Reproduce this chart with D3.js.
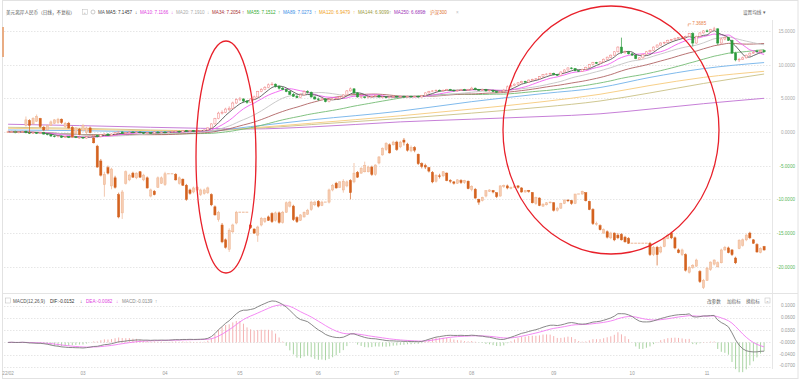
<!DOCTYPE html>
<html><head><meta charset="utf-8">
<script src="https://cdn.jsdelivr.net/npm/d3@7"></script>
<style>
html,body{margin:0;padding:0;background:#fff;}
svg{display:block;font-family:"Liberation Sans","Noto Sans CJK SC",Arial,sans-serif;}
</style></head><body>
<svg id="c" width="800" height="379"></svg>
<script>
// ================= DATA =================
const xTickIdx = [0,21,44,65,87,109,130,153,175,196];
const xTickLabels = ["22/02","03","04","05","06","07","08","09","10","11"];
const yTickValues = [15,10,5,0,-5,-10,-15,-20];
const macdGridValues = [0.09,0.06,0.03,0,-0.03,-0.06];
const macdTickLabels = ["0.1000","0.0600","0.0300","-0.0000","-0.0400","-0.0700"];
const titleText = "美元离岸人民币（日线，不复权）";
const maNames = ["MA5","MA10","MA20","MA34","MA55","MA89","MA120","MA144","MA250"];
const maValues = ["7.1457","7.1166","7.1910","7.2054","7.1512","7.0273","6.9479","6.9099","6.6898"];
const maArrows = ["↓","↓","↓","↑","↑","↑","↑","↑","↑"];
const overlayName = "沪深300";
const macdTitle = "MACD(12,26,9)";
const macdValues = ["DIF:-0.0152","DEA:-0.0082","MACD:-0.0139"];
const macdArrows = ["↓","↓","↑"];
const macdButtons = ["改参数","加指标","换指标"];
const settingText = "设置均线 ▾";
const cnhBase = 6.373;
const cnhMaxLabel = "7.3685";

// USD/CNH, % change vs base: [open, high, low, close]
const cnh = [
[0.0,0.2,-0.1,0.0],[0.0,0.2,-0.1,0.1],[0.1,0.2,-0.2,-0.1],[-0.1,0.1,-0.2,0.0],[0.0,0.2,-0.1,0.1],
[0.1,0.2,-0.2,-0.1],[-0.1,0.0,-0.3,-0.2],[-0.2,0.0,-0.3,-0.1],[-0.1,0.0,-0.3,-0.2],[-0.2,0.0,-0.3,-0.1],
[-0.1,0.0,-0.4,-0.3],[-0.3,-0.2,-0.5,-0.4],[-0.4,-0.3,-0.7,-0.6],[-0.6,-0.5,-0.8,-0.7],[-0.7,-0.5,-0.8,-0.6],
[-0.6,-0.5,-0.9,-0.8],[-0.8,-0.6,-0.9,-0.7],[-0.7,-0.6,-0.9,-0.8],[-0.8,-0.6,-0.9,-0.7],[-0.7,-0.6,-0.9,-0.8],
[-0.8,-0.7,-1.0,-0.8],[-0.8,-0.7,-1.0,-0.9],[-0.9,-0.6,-1.0,-0.7],[-0.7,-0.5,-0.8,-0.6],[-0.6,-0.4,-0.7,-0.5],
[-0.5,-0.4,-0.8,-0.7],[-0.7,-0.3,-0.8,-0.4],[-0.4,-0.2,-0.5,-0.3],[-0.3,-0.2,-0.6,-0.5],[-0.5,-0.2,-0.6,-0.3],
[-0.3,0.0,-0.4,-0.1],[-0.1,0.1,-0.2,0.0],[0.0,0.1,-0.3,-0.2],[-0.2,0.0,-0.3,-0.1],[-0.1,0.1,-0.2,0.0],
[0.0,0.1,-0.2,-0.1],[-0.1,0.1,-0.2,0.0],[0.0,0.1,-0.2,-0.1],[-0.1,0.0,-0.3,-0.2],[-0.2,0.0,-0.3,-0.1],
[-0.1,0.0,-0.3,-0.2],[-0.2,0.1,-0.2,0.0],[0.0,0.1,-0.2,-0.1],[-0.1,0.1,-0.2,0.0],[0.0,0.1,-0.2,-0.1],
[-0.1,0.1,-0.2,0.0],[0.0,0.2,-0.1,0.1],[0.1,0.2,0.0,0.15],[0.1,0.2,-0.1,0.0],[0.0,0.3,-0.1,0.2],
[0.2,0.3,0.0,0.1],[0.1,0.3,0.0,0.2],[0.2,0.3,0.0,0.1],[0.1,0.3,0.0,0.2],[0.15,0.3,0.1,0.25],
[0.2,0.4,0.1,0.3],[0.3,0.7,0.2,0.6],[0.6,1.3,0.5,1.2],[1.2,2.1,1.1,2.0],[2.0,3.0,1.9,2.8],
[2.8,3.2,2.6,2.9],[2.9,3.6,2.8,3.4],[3.3,3.8,3.1,3.5],[3.5,4.5,3.4,4.3],[4.3,5.0,4.2,4.8],
[4.8,5.2,4.6,4.9],[4.9,5.0,4.4,4.6],[4.6,4.7,4.2,4.4],[4.4,5.0,4.3,4.9],[4.9,5.4,4.8,5.2],
[5.2,6.1,5.1,6.0],[6.0,6.5,5.9,6.3],[6.3,6.8,6.2,6.6],[6.6,7.2,6.5,7.0],[7.0,7.4,6.9,7.1],
[7.1,7.2,6.6,6.8],[6.8,6.9,6.3,6.5],[6.5,6.7,6.2,6.3],[6.3,6.4,5.9,6.0],[6.0,6.1,5.5,5.6],
[5.6,5.8,5.2,5.3],[5.3,5.5,5.0,5.1],[5.1,5.7,5.0,5.5],[5.5,6.2,5.4,6.0],[6.0,6.2,5.7,5.9],
[5.9,6.0,5.1,5.2],[5.2,5.3,4.8,4.9],[4.9,5.1,4.6,4.8],[4.8,5.1,4.7,4.9],[4.9,5.0,4.4,4.5],
[4.5,4.9,4.4,4.8],[4.8,5.0,4.7,4.9],[4.9,5.1,4.8,5.0],[5.0,5.3,4.9,5.2],[5.2,5.6,5.1,5.5],
[5.5,6.2,5.4,6.1],[6.1,6.6,6.0,6.4],[6.4,6.5,5.7,5.8],[5.8,5.9,5.1,5.2],[5.1,5.4,5.0,5.2],
[5.2,5.3,5.0,5.1],[5.1,5.3,5.0,5.2],[5.2,5.4,5.1,5.3],[5.3,5.5,5.2,5.4],[5.4,5.5,5.1,5.2],
[5.1,5.3,5.0,5.2],[5.2,5.3,5.0,5.1],[5.1,5.3,5.0,5.2],[5.2,5.4,5.1,5.3],[5.3,5.4,5.1,5.2],
[5.2,5.4,5.1,5.3],[5.3,5.4,5.1,5.2],[5.2,5.4,5.1,5.3],[5.3,5.4,5.1,5.2],[5.2,5.4,5.1,5.3],
[5.3,5.4,5.1,5.2],[5.2,5.5,5.1,5.4],[5.4,5.9,5.3,5.8],[5.8,6.1,5.7,6.0],[6.0,6.2,5.9,6.1],
[6.1,6.3,6.0,6.2],[6.2,6.3,6.0,6.1],[6.1,6.3,6.0,6.2],[6.2,6.4,6.1,6.3],[6.3,6.4,6.1,6.2],
[6.2,6.3,6.0,6.1],[6.1,6.3,6.0,6.2],[6.2,6.4,6.1,6.3],[6.3,6.4,6.1,6.2],[6.2,6.4,6.1,6.3],
[6.3,6.7,6.2,6.5],[6.5,6.6,6.2,6.3],[6.3,6.4,6.1,6.2],[6.2,6.4,6.1,6.3],[6.3,6.4,6.0,6.1],
[6.1,6.3,6.0,6.2],[6.2,6.3,5.9,6.0],[6.0,6.1,5.8,5.9],[5.9,6.1,5.8,6.0],[6.0,6.4,5.9,6.2],
[6.2,6.9,6.1,6.7],[6.7,7.0,6.6,6.9],[6.9,7.2,6.8,7.1],[7.1,7.4,7.0,7.3],[7.3,7.6,7.2,7.5],
[7.5,7.6,7.3,7.4],[7.4,7.8,7.3,7.7],[7.7,7.9,7.6,7.8],[7.8,8.0,7.7,7.9],[7.9,8.3,7.8,8.2],
[8.2,8.6,8.1,8.5],[8.5,8.7,8.4,8.6],[8.6,8.8,8.5,8.7],[8.7,8.8,8.4,8.5],[8.5,8.6,8.3,8.4],
[8.4,9.0,8.3,8.9],[8.9,9.3,8.8,9.2],[9.2,9.6,9.1,9.5],[9.5,9.6,9.3,9.4],[9.4,9.5,9.0,9.1],
[9.1,9.2,8.9,9.0],[9.0,9.4,8.9,9.3],[9.3,9.7,9.2,9.6],[9.6,10.1,9.5,10.0],[10.0,10.4,9.9,10.3],
[10.3,10.4,10.1,10.2],[10.2,10.5,10.1,10.4],[10.4,10.9,10.3,10.8],[10.8,11.2,10.7,11.1],[11.1,11.5,11.0,11.4],
[11.4,12.0,11.3,11.9],[11.9,12.7,11.8,12.6],[12.6,14.0,11.6,11.8],[11.8,12.1,11.6,11.9],[11.9,12.0,11.5,11.6],
[11.6,11.7,11.3,11.4],[11.4,11.5,10.8,10.9],[10.8,11.1,10.7,11.0],[11.0,11.6,10.9,11.5],[11.5,12.0,11.4,11.9],
[11.9,12.2,11.8,12.1],[12.1,12.7,12.0,12.6],[12.6,13.0,12.5,12.9],[12.9,13.3,12.8,13.2],[13.2,13.4,13.0,13.3],
[13.3,13.7,13.2,13.6],[13.6,13.8,13.4,13.7],[13.7,14.0,13.6,13.9],[13.9,14.1,13.8,14.0],[14.0,14.2,13.9,14.1],
[14.1,14.3,13.9,14.2],[14.2,14.7,14.1,14.6],[14.6,14.8,12.7,13.2],[13.2,14.3,13.1,14.2],[14.2,14.8,14.1,14.7],
[14.7,15.1,14.6,15.0],[15.0,15.2,14.8,14.9],[14.9,15.3,14.8,15.2],[15.2,15.6,15.0,15.3],[15.3,15.4,12.9,13.2],
[13.2,14.0,13.1,13.8],[13.8,14.2,13.6,14.0],[14.0,14.1,13.5,13.6],[13.6,13.7,11.6,11.7],[11.7,11.9,10.5,10.7],
[10.7,11.0,10.4,10.8],[10.8,11.2,10.7,11.0],[11.0,11.5,10.9,11.4],[11.4,11.8,11.3,11.7],[11.7,12.0,11.6,11.8],
[12.0,12.2,11.8,11.9],[11.9,12.2,11.8,12.1],[12.1,12.2,11.8,11.9]
];

// 沪深300 overlay, % change vs base: [open, high, low, close]; null = no trading that day
const hs300 = [
null,null,null,null,null,
[1.0,2.3,0.8,1.8],[1.7,1.9,-0.2,1.0],[1.2,2.2,1.1,2.0],[1.6,2.6,1.5,2.3],[2.0,2.1,0.6,0.8],
[0.7,0.9,0.1,0.3],[0.3,1.1,0.2,1.0],[1.0,1.7,0.9,1.5],[1.3,1.9,1.2,1.8],[1.4,2.1,1.2,1.9],
[1.9,2.0,1.2,1.4],[0.8,1.5,0.6,1.3],[1.3,1.5,0.5,0.6],[0.7,0.9,-0.8,-0.7],[-0.2,0.7,-0.4,0.6],
[0.4,0.6,-0.5,-0.4],[0.2,1.2,0.1,1.0],[-0.1,0.8,-0.3,0.6],[0.6,0.8,-0.2,-0.1],[-0.9,-0.7,-1.7,-1.6],
[-2.1,-1.9,-5.3,-5.2],[-4.3,-4.0,-6.6,-6.4],[-7.8,-5.9,-9.6,-6.3],[-5.3,-5.0,-6.3,-6.1],[-8.0,-5.3,-8.5,-5.5],
[-6.8,-6.5,-8.4,-8.2],[-9.3,-9.0,-12.8,-12.6],[-12.0,-8.6,-12.9,-8.9],[-7.6,-5.7,-7.8,-5.9],[-7.1,-6.2,-7.3,-6.4],
[-6.1,-5.9,-6.8,-6.7],[-6.8,-6.0,-7.0,-6.1],[-5.9,-5.8,-6.8,-6.7],[-7.1,-6.2,-7.3,-6.4],[-6.8,-6.6,-8.4,-8.3],
[-9.5,-8.4,-9.7,-8.6],[-8.8,-8.6,-9.4,-9.3],[-8.2,-6.6,-8.3,-6.8],[-7.6,-6.6,-7.7,-6.8],[-7.8,-5.9,-8.0,-6.2],
null,null,
[-6.3,-6.1,-7.2,-7.1],[-7.6,-6.6,-7.8,-6.8],[-7.0,-6.9,-8.0,-7.9],[-7.9,-7.7,-10.2,-10.0],[-8.6,-8.4,-9.3,-9.1],
[-8.9,-8.1,-9.1,-8.3],[-8.6,-8.0,-8.8,-8.2],[-9.3,-8.4,-9.5,-8.6],[-9.1,-8.4,-9.3,-8.6],[-9.0,-8.1,-9.2,-8.3],
[-9.3,-9.1,-11.0,-10.8],[-11.1,-10.9,-12.4,-12.3],[-13.0,-11.7,-13.3,-11.9],[-13.8,-13.5,-16.5,-16.3],[-16.0,-15.8,-17.3,-17.1],
[-17.4,-14.3,-17.8,-14.6],[-14.8,-13.6,-15.0,-13.8],[-13.5,-11.7,-13.7,-11.9],
null,null,null,
[-13.8,-13.6,-14.4,-14.2],[-14.4,-14.3,-15.1,-15.0],[-15.3,-13.9,-16.3,-14.1],[-13.8,-12.6,-14.0,-12.8],[-13.3,-12.7,-13.5,-12.8],
[-12.6,-12.4,-13.2,-13.1],[-12.1,-11.9,-13.5,-13.3],[-13.1,-11.8,-13.3,-12.0],[-12.0,-11.8,-13.6,-13.4],[-13.4,-11.7,-13.6,-11.9],
[-11.9,-10.3,-12.0,-10.5],[-11.0,-10.2,-11.2,-10.4],[-11.0,-10.8,-13.2,-13.0],[-12.7,-12.5,-13.5,-13.3],[-13.1,-12.2,-13.2,-12.3],
[-12.6,-11.8,-12.7,-11.9],[-12.2,-11.4,-12.3,-11.6],[-11.5,-10.2,-11.7,-10.4],[-10.8,-10.2,-11.0,-10.4],[-10.3,-10.1,-11.2,-11.0],
[-10.9,-10.2,-11.0,-10.4],
null,
[-10.4,-8.4,-10.6,-8.6],[-8.6,-7.7,-8.8,-7.9],[-7.6,-7.4,-8.4,-8.3],[-8.2,-7.3,-8.3,-7.4],[-8.6,-7.0,-9.0,-7.3],
[-8.0,-7.2,-8.2,-7.4],[-7.2,-7.0,-10.0,-9.0],[-7.4,-4.6,-7.6,-6.1],[-6.0,-5.8,-6.8,-6.7],[-6.1,-5.2,-6.2,-5.4],
[-5.9,-4.4,-6.0,-5.0],[-5.9,-5.0,-6.0,-5.2],[-5.2,-5.0,-6.5,-6.3],[-6.3,-4.8,-6.5,-4.9],[-4.6,-3.6,-4.8,-3.7],
[-3.4,-2.3,-3.5,-2.4],[-2.6,-1.5,-2.8,-1.7],[-1.9,-1.7,-3.2,-3.1],[-1.9,-1.3,-2.0,-1.5],[-1.5,-1.3,-2.8,-2.6],
[-2.2,-1.3,-2.4,-1.5],
[-1.2,-0.9,-2.0,-1.5],[-1.8,-1.6,-2.9,-2.7],[-2.8,-2.0,-3.0,-2.3],[-2.3,-2.1,-3.0,-2.7],[-3.3,-3.2,-4.9,-4.7],
[-4.7,-4.5,-5.4,-5.1],[-5.0,-4.7,-5.5,-5.2],[-5.3,-5.2,-6.0,-5.8],[-6.0,-5.8,-7.6,-7.4],[-7.3,-6.3,-7.5,-6.4],
[-6.5,-6.2,-6.9,-6.6],[-6.5,-5.8,-6.7,-5.9],[-6.1,-6.0,-7.3,-7.2],[-7.2,-7.0,-7.6,-7.3],[-7.4,-7.3,-7.8,-7.6],
[-7.6,-7.0,-7.7,-7.1],[-7.2,-7.0,-7.7,-7.5],[-7.5,-7.1,-7.7,-7.2],[-7.3,-7.2,-8.5,-8.4],[-8.5,-7.9,-8.8,-8.1],
[-8.5,-8.3,-9.9,-9.8],[-10.0,-9.9,-10.8,-10.4],[-10.2,-9.6,-10.3,-9.7],[-9.5,-8.7,-9.7,-8.7],[-8.8,-8.5,-8.9,-8.6],
[-8.7,-8.6,-9.1,-8.9],[-9.0,-9.0,-9.8,-9.6],[-9.5,-7.9,-9.6,-8.0],[-8.1,-7.8,-8.3,-7.9],[-8.0,-7.8,-8.5,-8.3],
[-8.4,-8.1,-8.5,-8.2],[-8.2,-7.9,-8.3,-8.0],[-8.0,-7.9,-8.4,-8.2],[-8.3,-8.2,-9.0,-8.9],[-8.9,-8.6,-9.0,-8.7],
[-8.7,-8.6,-9.0,-8.8],[-9.0,-8.9,-10.6,-10.5],[-10.6,-9.6,-10.8,-9.7],[-9.8,-9.7,-11.0,-10.9],[-11.0,-10.6,-11.1,-10.7],
[-10.8,-10.4,-10.9,-10.5],[-10.5,-10.3,-10.6,-10.4],[-10.5,-10.4,-11.8,-11.6],[-11.6,-11.1,-11.8,-11.3],[-11.3,-10.5,-11.4,-10.6],
[-10.6,-10.0,-10.7,-10.1],[-10.1,-10.0,-10.4,-10.2],[-10.2,-10.1,-10.8,-10.6],[-10.6,-9.2,-10.7,-9.2],
null,
[-9.2,-8.7,-9.3,-8.8],[-9.0,-9.0,-10.3,-10.2],[-10.3,-10.2,-11.6,-11.5],[-11.5,-11.3,-13.8,-13.6],[-13.7,-13.3,-13.9,-13.6],
[-13.9,-13.7,-14.6,-14.5],[-15.0,-14.3,-15.1,-14.5],[-14.8,-14.6,-15.8,-15.6],[-15.7,-14.8,-15.9,-15.0],[-15.0,-14.9,-16.2,-16.0],
[-15.3,-15.0,-15.9,-15.7],[-15.2,-15.0,-16.1,-16.0],[-15.6,-15.4,-16.4,-16.3],[-15.8,-15.6,-16.6,-16.5],
null,null,null,null,null,
[-16.5,-16.3,-18.4,-18.2],[-18.2,-16.9,-18.4,-17.1],[-17.1,-16.9,-19.8,-18.2],[-17.8,-16.9,-18.0,-17.1],[-17.0,-15.6,-17.1,-15.8],
[-15.8,-15.2,-15.9,-15.3],[-15.0,-14.8,-15.9,-15.7],[-15.7,-15.5,-17.4,-17.2],[-17.5,-17.3,-18.0,-17.9],[-18.2,-17.3,-18.4,-17.5],
[-18.2,-18.0,-20.7,-20.5],[-20.8,-19.9,-21.0,-20.1],[-20.1,-19.6,-20.3,-19.8],[-19.9,-18.8,-20.0,-19.0],[-20.7,-20.5,-22.4,-22.2],
[-23.1,-21.8,-23.3,-22.0],[-22.0,-20.0,-22.1,-20.2],[-20.4,-19.2,-20.6,-19.3],[-19.6,-18.9,-19.8,-19.0],[-20.0,-19.2,-20.1,-19.4],
[-19.4,-17.3,-19.5,-17.5],[-17.5,-16.9,-17.6,-17.1],[-17.2,-17.0,-18.0,-17.9],[-17.5,-17.4,-18.4,-18.2],[-18.7,-18.5,-19.6,-19.4],
[-17.3,-15.9,-17.4,-16.1],[-16.8,-15.8,-17.0,-16.0],[-16.0,-15.1,-16.2,-15.3],[-15.0,-14.8,-15.9,-15.7],[-16.0,-15.9,-16.6,-16.5],
[-16.7,-16.5,-17.9,-17.8],[-17.9,-17.1,-18.0,-17.3],[-17.0,-16.9,-17.6,-17.5]
];

// long moving averages of USD/CNH: [day index, % value]
const ma89Pts  = [[0,0.3],[20,0.2],[40,0.05],[54,0.05],[68,0.8],[85,1.8],[110,3.1],[130,4.5],[150,5.7],[166,6.6],[180,8.1],[195,9.4],[212,10.3]];
const ma120Pts = [[0,0.55],[20,0.4],[40,0.2],[54,0.15],[68,0.6],[85,1.3],[110,2.4],[130,3.4],[150,4.5],[166,5.6],[180,6.9],[195,8.1],[212,9.0]];
const ma144Pts = [[0,0.7],[20,0.55],[40,0.3],[54,0.2],[68,0.5],[85,1.1],[110,2.0],[130,2.8],[150,3.7],[166,4.6],[180,5.8],[195,7.2],[212,8.6]];
const ma250Pts = [[0,1.15],[20,0.95],[40,0.7],[54,0.55],[68,0.45],[85,0.75],[110,1.5],[130,1.9],[150,2.3],[166,2.7],[180,3.4],[195,4.2],[212,5.0]];

// ================= STYLE =================
const maColors = {MA5:"#555555",MA10:"#f060f0",MA20:"#c4c4c4",MA34:"#b06464",MA55:"#74bb74",MA89:"#72b2ea",MA120:"#f6c97a",MA144:"#c9c184",MA250:"#c070d2"};
const maTextColors = {MA5:"#333",MA10:"#e040e0",MA20:"#aaa",MA34:"#a33",MA55:"#3a3",MA89:"#3a8ee6",MA120:"#f0a020",MA144:"#9a9a40",MA250:"#a035b8"};

// ================= DRAW =================
const svg = d3.select("#c");
const N = cnh.length;
const x = d3.scaleBand().domain(d3.range(N)).range([6.32, 765.88]);
const cx = i => x(i) + x.bandwidth()/2;
const bw = x.bandwidth()*0.6;
const y = d3.scaleLinear().domain([-20,15]).range([266.8,30.9]);
const ym = d3.scaleLinear().domain([-0.06,0.09]).range([367.0,305.6]);
const FS = 4.6;

// frame
svg.append("rect").attr("x",2.5).attr("y",0.5).attr("width",795.5).attr("height",378).attr("fill","none").attr("stroke","#e2e2e2");
svg.append("line").attr("x1",772.5).attr("x2",772.5).attr("y1",20).attr("y2",369).attr("stroke","#e6e6e6");
svg.append("line").attr("x1",3).attr("x2",798).attr("y1",293.5).attr("y2",293.5).attr("stroke","#e4e4e4");
svg.append("rect").attr("x",2.4).attr("y",27).attr("width",1.3).attr("height",30).attr("fill","#e5894a");

// grid
const grid = svg.append("g");
grid.selectAll("line.g").data(yTickValues).join("line")
  .attr("x1",4).attr("x2",772).attr("y1",d=>Math.round(y(d))+0.5).attr("y2",d=>Math.round(y(d))+0.5)
  .attr("stroke","#e6e6e6").attr("stroke-dasharray","1.5,1.5");
grid.selectAll("line.m").data(macdGridValues).join("line")
  .attr("x1",4).attr("x2",772).attr("y1",d=>Math.round(ym(d))+0.5).attr("y2",d=>Math.round(ym(d))+0.5)
  .attr("stroke","#e6e6e6").attr("stroke-dasharray","1.5,1.5");

// y axis (main)
const yAxis = svg.append("g").attr("transform","translate(773,0)")
  .call(d3.axisRight(y).tickValues(yTickValues).tickSize(0).tickFormat(v=>v.toFixed(4)));
yAxis.select(".domain").remove();
yAxis.selectAll("text").attr("x",22).attr("text-anchor","end").attr("font-size",FS)
  .attr("font-family","Liberation Sans, Arial, sans-serif")
  .attr("fill",d=>d<0?"#59b85c":"#a8a8a8");

// macd axis labels
svg.append("g").selectAll("text").data(macdGridValues).join("text")
  .attr("x",795).attr("y",(d,i)=>Math.min(ym(d),365)+1.6).attr("text-anchor","end")
  .attr("font-size",FS).attr("fill","#999").text((d,i)=>macdTickLabels[i]);

// x axis
const xAxis = svg.append("g").attr("transform","translate(0,369)")
  .call(d3.axisBottom(x).tickValues(xTickIdx).tickSize(0).tickPadding(2.5).tickFormat((d,k)=>xTickLabels[k]));
xAxis.select(".domain").remove();
xAxis.selectAll("text").attr("font-size",FS).attr("fill","#999");

// clip
svg.append("clipPath").attr("id","clipMain").append("rect").attr("x",4).attr("y",20).attr("width",768).attr("height",273);
const main = svg.append("g").attr("clip-path","url(#clipMain)");

// moving averages computed from CNH closes
function movAvg(n){ return cnh.map((d,i)=>d3.mean(cnh.slice(Math.max(0,i-n+1),i+1),r=>r[3])); }
const lineIdx = d3.line().x((v,i)=>cx(i)).y(v=>y(v)).curve(d3.curveMonotoneX);
const linePts = d3.line().x(p=>cx(p[0])).y(p=>y(p[1])).curve(d3.curveMonotoneX);
[["MA250",ma250Pts],["MA144",ma144Pts],["MA120",ma120Pts],["MA89",ma89Pts]].forEach(([k,pts])=>{
  main.append("path").attr("d",linePts(pts)).attr("fill","none").attr("stroke",maColors[k]).attr("stroke-width",0.9);
});
[["MA55",55],["MA34",34],["MA20",20],["MA10",10],["MA5",5]].forEach(([k,n])=>{
  main.append("path").attr("d",lineIdx(movAvg(n))).attr("fill","none").attr("stroke",maColors[k]).attr("stroke-width",0.9);
});

// candles
function drawCandles(g, rows, up, down){
  const gg = g.append("g");
  gg.selectAll("line").data(rows).join("line")
    .attr("x1",d=>cx(d.i)).attr("x2",d=>cx(d.i)).attr("y1",d=>y(d.h)).attr("y2",d=>y(d.l))
    .attr("stroke",d=>d.c>=d.o?up.stroke:down.stroke).attr("stroke-width",0.7);
  gg.selectAll("rect").data(rows).join("rect")
    .attr("x",d=>cx(d.i)-bw/2).attr("width",bw)
    .attr("y",d=>y(Math.max(d.o,d.c))).attr("height",d=>Math.max(0.7,Math.abs(y(d.o)-y(d.c))))
    .attr("fill",d=>d.c>=d.o?up.fill:down.fill).attr("stroke",d=>d.c>=d.o?up.stroke:down.stroke).attr("stroke-width",0.5);
}
const cnhRows = cnh.map((d,i)=>({i,o:d[0],h:d[1],l:d[2],c:d[3]}));
drawCandles(main, cnhRows, {fill:"#fff6f6",stroke:"#ef8585"}, {fill:"#2c9a3c",stroke:"#2c9a3c"});

let prevC = 0;
const hsRows = [], hsHol = [];
hs300.forEach((d,i)=>{ if(d){ hsRows.push({i,o:d[0],h:d[1],l:d[2],c:d[3]}); prevC=d[3]; } else hsHol.push({i,c:prevC}); });
drawCandles(main, hsRows, {fill:"#f6cdb2",stroke:"#eeb28e"}, {fill:"#d4621f",stroke:"#d4621f"});
main.append("g").selectAll("line").data(hsHol).join("line")
  .attr("x1",d=>x(d.i)+0.3).attr("x2",d=>x(d.i)+x.bandwidth()-0.6).attr("y1",d=>y(d.c)).attr("y2",d=>y(d.c))
  .attr("stroke","#e9a47c").attr("stroke-width",0.8);

// max label
const iMax = d3.maxIndex(cnh, d=>d[1]);
const mxX = cx(iMax), mxY = y(cnh[iMax][1]);
svg.append("path").attr("d",`M${mxX-26},${mxY-0.5} l0,-2.5 l3,0`).attr("fill","none").attr("stroke","#e8804a").attr("stroke-width",0.6);
svg.append("text").attr("x",mxX-22).attr("y",mxY-1.5).attr("font-size",FS).attr("fill","#e8804a").text(cnhMaxLabel);

// MACD
const closes = cnh.map(d=>cnhBase*(1+d[3]/100));
let e12 = closes[0], e26 = closes[0], dea = 0;
const macd = closes.map((p,i)=>{
  if(i>0){ e12 += (p-e12)*2/13; e26 += (p-e26)*2/27; }
  const dif = e12-e26;
  if(i>0) dea += (dif-dea)*2/10;
  return {i, dif, dea, hist:2*(dif-dea)};
});
const mg = svg.append("g");
mg.selectAll("line").data(macd).join("line")
  .attr("x1",d=>cx(d.i)).attr("x2",d=>cx(d.i)).attr("y1",ym(0)).attr("y2",d=>ym(d.hist))
  .attr("stroke",d=>d.hist>=0?"#f3a9a9":"#9fcf99").attr("stroke-width",0.9);
mg.append("path").attr("d",d3.line().x(d=>cx(d.i)).y(d=>ym(d.dea))(macd)).attr("fill","none").attr("stroke","#f37cf3").attr("stroke-width",0.9);
mg.append("path").attr("d",d3.line().x(d=>cx(d.i)).y(d=>ym(d.dif))(macd)).attr("fill","none").attr("stroke","#7a7a7a").attr("stroke-width",0.9);

// header
const hd = svg.append("g").attr("font-size",FS);
hd.append("text").attr("x",6).attr("y",14).attr("fill","#555").text(titleText);
hd.append("rect").attr("x",82.5).attr("y",9.5).attr("width",5).attr("height",5).attr("fill","none").attr("stroke","#bbb").attr("stroke-width",0.5);
hd.append("text").attr("x",83.6).attr("y",13.8).attr("font-size",4).attr("fill","#999").text("+");
hd.append("circle").attr("cx",93).attr("cy",12).attr("r",2).attr("fill","none").attr("stroke","#aaa").attr("stroke-width",0.6);
hd.append("text").attr("x",98).attr("y",14).attr("fill","#555").text("MA");
const hx = [106,140,176,212,247,283,319,358,394];
maNames.forEach((k,j)=>{
  hd.append("text").attr("x",hx[j]).attr("y",14).attr("fill",maTextColors[k]).text(k+": "+maValues[j]);
  const ax = j<maNames.length-1 ? hx[j+1]-5 : 424;
  hd.append("text").attr("x",ax).attr("y",14.3).attr("fill",maTextColors[k]).text(maArrows[j]);
});
hd.append("text").attr("x",430).attr("y",14).attr("fill","#e07030").text(overlayName);
hd.append("text").attr("x",456).attr("y",14).attr("fill","#bbb").text("×");
hd.append("text").attr("x",743).attr("y",14).attr("fill","#666").text(settingText);

// macd header
const mh = svg.append("g").attr("font-size",FS);
mh.append("rect").attr("x",5.5).attr("y",298).attr("width",5).attr("height",5).attr("fill","none").attr("stroke","#bbb").attr("stroke-width",0.5);
mh.append("text").attr("x",13).attr("y",302.8).attr("fill","#555").text(macdTitle);
const mxs = [50,86,122], mas = [80,116,155], mcol = ["#333","#e040e0","#888"];
macdValues.forEach((t,j)=>{
  mh.append("text").attr("x",mxs[j]).attr("y",302.8).attr("fill",mcol[j]).text(t);
  mh.append("text").attr("x",mas[j]).attr("y",303).attr("fill",mcol[j]).text(macdArrows[j]);
});
[707,727,746].forEach((bx,j)=>mh.append("text").attr("x",bx).attr("y",302.8).attr("fill","#666").text(macdButtons[j]));
mh.append("rect").attr("x",765).attr("y",298).attr("width",5).attr("height",5).attr("fill","none").attr("stroke","#bbb").attr("stroke-width",0.5);
mh.append("text").attr("x",766.3).attr("y",302.5).attr("font-size",4).attr("fill","#999").text("×");

// annotations
svg.append("ellipse").attr("cx",226).attr("cy",157).attr("rx",30).attr("ry",116).attr("fill","none").attr("stroke","#e8202a").attr("stroke-width",1.3);
svg.append("ellipse").attr("cx",611).attr("cy",130).attr("rx",108).attr("ry",124).attr("fill","none").attr("stroke","#e8202a").attr("stroke-width",1.3);
</script>
</body></html>
